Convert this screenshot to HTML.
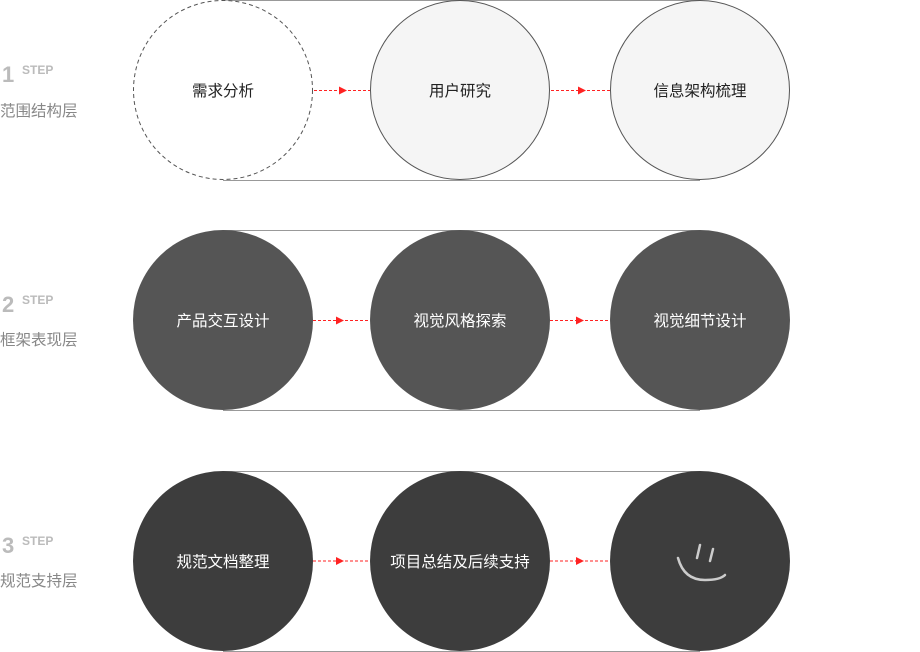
<!DOCTYPE html>
<html><head><meta charset="utf-8"><style>
html,body{margin:0;padding:0;background:#fff;}
svg{display:block;}
text{font-family:"Liberation Sans","Noto Sans CJK SC",sans-serif;}
</style></head><body>
<svg width="920" height="652" viewBox="0 0 920 652" xmlns="http://www.w3.org/2000/svg">
<defs>
<marker id="a" markerWidth="8" markerHeight="8" refX="4" refY="4" orient="auto" markerUnits="userSpaceOnUse"><path d="M0,0 L8,4 L0,8 z" fill="#f22"/></marker>
</defs>
<g stroke="#999" stroke-width="1" fill="none">
<line x1="223" y1="0.5" x2="700" y2="0.5"/><line x1="223" y1="180.5" x2="700" y2="180.5"/>
<line x1="223" y1="230.5" x2="700" y2="230.5"/><line x1="223" y1="410.5" x2="700" y2="410.5"/>
<line x1="223" y1="471.5" x2="700" y2="471.5"/><line x1="223" y1="651.5" x2="700" y2="651.5"/>
</g>
<circle cx="223" cy="90" r="89.5" fill="#fff" stroke="#555" stroke-dasharray="4,3"/>
<circle cx="460" cy="90" r="89.5" fill="#f5f5f5" stroke="#555"/>
<circle cx="700" cy="90" r="89.5" fill="#f5f5f5" stroke="#555"/>
<circle cx="223" cy="320" r="90" fill="#555"/>
<circle cx="460" cy="320" r="90" fill="#555"/>
<circle cx="700" cy="320" r="90" fill="#555"/>
<circle cx="223" cy="561" r="90" fill="#3d3d3d"/>
<circle cx="460" cy="561" r="90" fill="#3d3d3d"/>
<circle cx="700" cy="561" r="90" fill="#3d3d3d"/>
<g stroke="#f22" stroke-width="1" stroke-dasharray="3,2">
<line x1="314" y1="90.5" x2="343" y2="90.5" marker-end="url(#a)"/><line x1="343" y1="90.5" x2="370" y2="90.5"/>
<line x1="551" y1="90.5" x2="582" y2="90.5" marker-end="url(#a)"/><line x1="582" y1="90.5" x2="610" y2="90.5"/>
<line x1="313" y1="320.5" x2="340" y2="320.5" marker-end="url(#a)"/><line x1="340" y1="320.5" x2="370" y2="320.5"/>
<line x1="550" y1="320.5" x2="580" y2="320.5" marker-end="url(#a)"/><line x1="580" y1="320.5" x2="610" y2="320.5"/>
<line x1="313" y1="561" x2="340" y2="561" marker-end="url(#a)"/><line x1="340" y1="561" x2="370" y2="561"/>
<line x1="550" y1="561" x2="580" y2="561" marker-end="url(#a)"/><line x1="580" y1="561" x2="610" y2="561"/>
</g>
<g font-size="15.5" text-anchor="middle">
<text x="223" y="96" fill="#222">需求分析</text>
<text x="460" y="96" fill="#222">用户研究</text>
<text x="700" y="96" fill="#222">信息架构梳理</text>
<text x="223" y="326" fill="#fff">产品交互设计</text>
<text x="460" y="326" fill="#fff">视觉风格探索</text>
<text x="700" y="326" fill="#fff">视觉细节设计</text>
<text x="223" y="567" fill="#fff">规范文档整理</text>
<text x="460" y="567" fill="#fff">项目总结及后续支持</text>
</g>
<g stroke="#ccc" stroke-width="2.5" fill="none" stroke-linecap="round">
<path d="M678,558 Q684,580 705,580 Q720,580 725,575"/>
<line x1="700" y1="545" x2="697" y2="558"/>
<line x1="713" y1="549" x2="710" y2="561"/>
</g>
<g fill="#bbb">
<text x="2" y="82" font-size="22" font-weight="bold">1</text>
<text x="22" y="74" font-size="12" font-weight="bold">STEP</text>
<text x="2" y="312" font-size="22" font-weight="bold">2</text>
<text x="22" y="304" font-size="12" font-weight="bold">STEP</text>
<text x="2" y="553" font-size="22" font-weight="bold">3</text>
<text x="22" y="545" font-size="12" font-weight="bold">STEP</text>
</g>
<g fill="#888" font-size="15.5">
<text x="0" y="116">范围结构层</text>
<text x="0" y="345">框架表现层</text>
<text x="0" y="586">规范支持层</text>
</g>
</svg>
</body></html>
